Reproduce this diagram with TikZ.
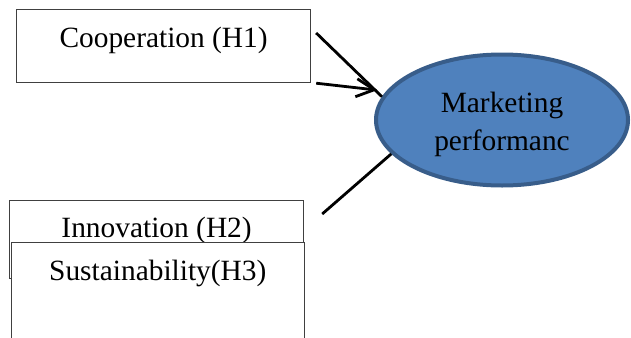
\documentclass[tikz,border=0pt]{standalone}
\usepackage{fontspec}
\setmainfont{Liberation Serif}
\usepackage{xcolor}
\usepackage{tikz}
\usetikzlibrary{shapes.geometric, arrows.meta, positioning}
\definecolor{perfblue}{RGB}{79, 129, 189}
\definecolor{perfedge}{RGB}{56, 93, 138}

\begin{document}
\begin{tikzpicture}[x=0.5pt, y=-0.5pt]
    \tikzstyle{factor} = [rectangle, draw=black!75, line width=0.6pt, fill=white, minimum width=147pt, inner ysep=0pt, anchor=north west, text centered, font=\fontsize{14.7}{19}\selectfont]
    \tikzstyle{outcome} = [ellipse, draw=perfedge, line width=2pt, fill=perfblue, minimum width=126pt, minimum height=65.5pt, align=center, text height=34pt, text depth=4pt, font=\fontsize{14.7}{19}\selectfont]
    \tikzstyle{link} = [line width=1.4pt]

    \useasboundingbox (0,0) rectangle (631,337);

    \node (coop) [factor, text height=19pt, text depth=17.5pt] at (16,9) {Cooperation (H1)};
    \node (innov) [factor, text height=18.5pt, text depth=20.5pt] at (9,200) {Innovation (H2)};
    \node (sust) [factor, minimum width=146.5pt, text height=19pt, text depth=40pt] at (10.7,242) {Sustainability(H3)};
    \node (perf) [outcome] at (502,120) {Marketing\\performanc};

    \draw [link] ([xshift=2.5pt, yshift=-12pt]coop.north east) -- (perf.169);
    \draw [link, -{Straight Barb[length=9pt, width=9pt]}, shorten >=4.5pt] ([xshift=2.5pt]coop.south east) -- (perf.166);
    \draw [link] ([xshift=9pt, yshift=-7pt]innov.north east) -- (perf.197);
\end{tikzpicture}
\end{document}
